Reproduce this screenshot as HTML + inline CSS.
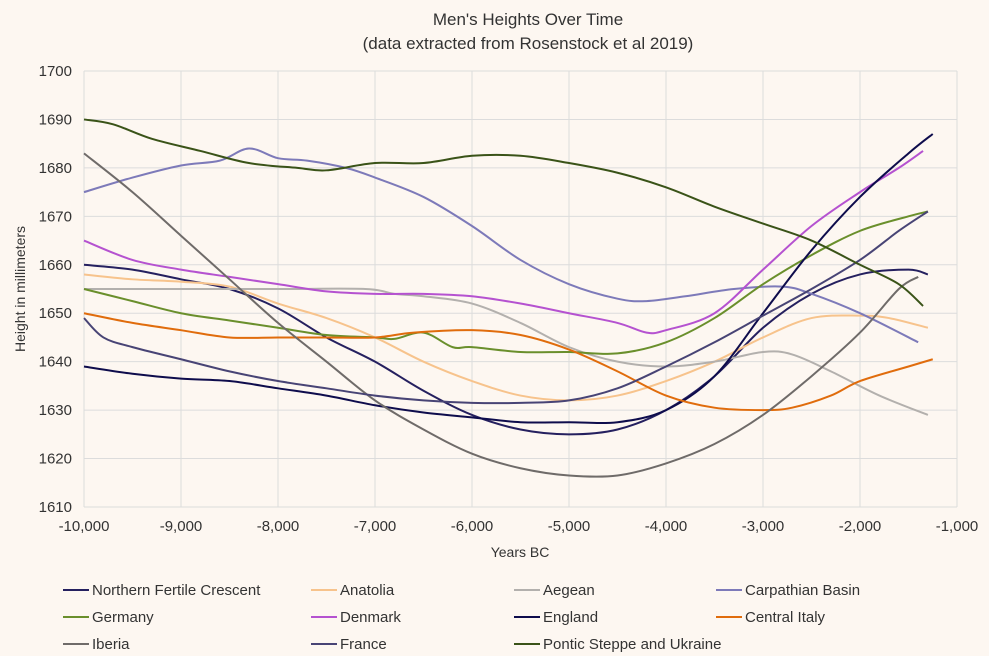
<!DOCTYPE html>
<html><head><meta charset="utf-8"><style>
body{margin:0;background:#fdf7f1;}
svg{display:block;font-family:"Liberation Sans",sans-serif;}
</style></head><body>
<svg id="chart" width="989" height="656">
<rect width="989" height="656" fill="#fdf7f1"/>
<text x="528" y="25" text-anchor="middle" font-size="17" fill="#333">Men's Heights Over Time</text>
<text x="528" y="49" text-anchor="middle" font-size="17" fill="#333">(data extracted from Rosenstock et al 2019)</text>
<g id="grid"></g><g id="series"></g><g id="axes"></g><g id="legend"></g>
<text x="520" y="557" text-anchor="middle" font-size="14" fill="#333">Years BC</text>
<text transform="translate(25,289) rotate(-90)" text-anchor="middle" font-size="14" fill="#333">Height in millimeters</text>
</svg>
<script>
const xTicks=[-10000,-9000,-8000,-7000,-6000,-5000,-4000,-3000,-2000,-1000];
const yTicks=[1610,1620,1630,1640,1650,1660,1670,1680,1690,1700];
const seriesNames=["Northern Fertile Crescent","Anatolia","Aegean","Carpathian Basin","Germany","Denmark","England","Central Italy","Iberia","France","Pontic Steppe and Ukraine"];
const seriesColors=["#25205f","#f7c38c","#b3b0ad","#7d7ab9","#6a8f2c","#b552d0","#0e0c4c","#e06c0c","#6f6b69","#484475","#3a5318"];
const yearsNFC=[-10000,-9500,-9000,-8500,-8000,-7500,-7000,-6500,-6000,-5500,-5000,-4500,-4000,-3500,-3000,-2500,-2000,-1500,-1300];
const valsNFC=[1660,1659,1657,1655,1651,1645,1640,1634,1629,1626,1625,1626,1630,1637,1647,1654,1658,1659,1658];
const yearsAna=[-10000,-9500,-9000,-8500,-8000,-7500,-7000,-6500,-6000,-5500,-5000,-4500,-4000,-3500,-3000,-2500,-2000,-1700,-1300];
const valsAna=[1658,1657,1656.5,1655.5,1652,1649,1645,1640,1636,1633,1632,1633,1636,1640,1645,1649,1649.5,1649,1647];
const yearsAeg=[-10000,-9000,-8000,-7100,-6800,-6500,-6000,-5500,-5000,-4500,-4000,-3500,-3000,-2700,-2300,-1800,-1300];
const valsAeg=[1655,1655,1655,1655,1654,1653.5,1652,1648,1643,1640,1639,1640,1642,1641.5,1638,1633,1629];
const yearsCar=[-10000,-9500,-9000,-8600,-8300,-8000,-7700,-7300,-7000,-6500,-6000,-5500,-5000,-4500,-4200,-3800,-3300,-2800,-2500,-2000,-1400];
const valsCar=[1675,1678,1680.5,1681.5,1684,1682,1681.5,1680,1678,1674,1668,1661,1656,1653,1652.5,1653.5,1655,1655.5,1654,1650,1644];
const yearsGer=[-10000,-9500,-9000,-8500,-8000,-7500,-7000,-6800,-6500,-6200,-6000,-5500,-5000,-4500,-4000,-3500,-3000,-2500,-2000,-1500,-1300];
const valsGer=[1655,1652.5,1650,1648.5,1647,1645.5,1645,1644.7,1646,1643,1643,1642,1642,1641.7,1644,1649,1656,1662,1667,1670,1671];
const yearsDen=[-10000,-9500,-9000,-8500,-8000,-7500,-7000,-6500,-6000,-5500,-5000,-4500,-4200,-4000,-3500,-3000,-2500,-2000,-1600,-1350];
const valsDen=[1665,1661,1659,1657.5,1656,1654.5,1654,1654,1653.5,1652,1650,1648,1646,1646.5,1650,1659,1668,1675,1680,1683.5];
const yearsEng=[-10000,-9500,-9000,-8500,-8000,-7500,-7000,-6500,-6000,-5500,-5000,-4500,-4000,-3500,-3000,-2500,-2000,-1500,-1250];
const valsEng=[1639,1637.5,1636.5,1636,1634.5,1633,1631,1629.5,1628.5,1627.5,1627.5,1627.5,1630,1637,1650,1663,1674,1683,1687];
const yearsIta=[-10000,-9500,-9000,-8500,-8000,-7500,-7000,-6600,-6000,-5500,-5000,-4500,-4000,-3500,-3000,-2700,-2300,-2000,-1500,-1250];
const valsIta=[1650,1648,1646.5,1645,1645,1645,1645,1646,1646.5,1645.5,1642.5,1638,1633,1630.5,1630,1630.5,1633,1636,1639,1640.5];
const yearsIbe=[-10000,-9500,-9000,-8500,-8000,-7500,-7000,-6500,-6000,-5500,-5000,-4500,-4000,-3500,-3000,-2500,-2000,-1600,-1400];
const valsIbe=[1683,1675,1666,1657,1648,1640,1632,1626,1621,1618,1616.5,1616.5,1619,1623,1629,1637,1646,1655,1657.5];
const yearsFra=[-10000,-9800,-9500,-9000,-8500,-8000,-7500,-7000,-6500,-6000,-5500,-5000,-4500,-4000,-3500,-3000,-2500,-2000,-1600,-1300];
const valsFra=[1649,1645,1643,1640.5,1638,1636,1634.5,1633,1632,1631.5,1631.5,1632,1634.5,1639,1644,1649.5,1655,1661,1667,1671];
const yearsPon=[-10000,-9700,-9300,-8800,-8300,-7800,-7500,-7000,-6500,-6000,-5500,-5000,-4500,-4000,-3500,-3000,-2500,-2000,-1600,-1350];
const valsPon=[1690,1689,1686,1683.5,1681,1680,1679.5,1681,1681,1682.5,1682.5,1681,1679,1676,1672,1668.5,1665,1660,1656,1651.5];
const allYears=[yearsNFC,yearsAna,yearsAeg,yearsCar,yearsGer,yearsDen,yearsEng,yearsIta,yearsIbe,yearsFra,yearsPon];
const allVals=[valsNFC,valsAna,valsAeg,valsCar,valsGer,valsDen,valsEng,valsIta,valsIbe,valsFra,valsPon];
const NS="http://www.w3.org/2000/svg";
const X0=84,X1=957,Y0=507,Y1=71;
function xs(v){return X0+(v+10000)/9000*(X1-X0);}
function ys(v){return Y0-(v-1610)/90*(Y0-Y1);}
function mk(t,a,p){const e=document.createElementNS(NS,t);for(const k in a)e.setAttribute(k,a[k]);p.appendChild(e);return e;}
const grid=document.getElementById('grid'),axes=document.getElementById('axes'),ser=document.getElementById('series'),leg=document.getElementById('legend');
yTicks.forEach(v=>{const l=mk('line',{x1:X0,x2:X1,y1:ys(v),y2:ys(v),stroke:'#dcdcdc','stroke-width':1},grid);


const t=mk('text',{x:X0-12,y:ys(v)+5,'text-anchor':'end','font-size':15,fill:'#333'},axes);t.textContent=v;

});
xTicks.forEach(v=>{const l=mk('line',{x1:xs(v),x2:xs(v),y1:Y1,y2:Y0,stroke:'#dcdcdc','stroke-width':1},grid);


const t=mk('text',{x:xs(v),y:Y0+24,'text-anchor':'middle','font-size':15,fill:'#333'},axes);t.textContent=v.toLocaleString('en-US');

});
function pathFor(yr,vl){const p=yr.map((y,i)=>[xs(y),ys(vl[i])]);let d='M'+p[0][0]+','+p[0][1];
for(let i=0;i<p.length-1;i++){const a=p[Math.max(i-1,0)],b=p[i],c=p[i+1],e=p[Math.min(i+2,p.length-1)];
d+=` C${b[0]+(c[0]-a[0])/6},${b[1]+(c[1]-a[1])/6} ${c[0]-(e[0]-b[0])/6},${c[1]-(e[1]-b[1])/6} ${c[0]},${c[1]}`;}return d;}
seriesNames.forEach((n,i)=>{const p=mk('path',{d:pathFor(allYears[i],allVals[i]),fill:'none',stroke:seriesColors[i],'stroke-width':2},ser);


const col=i%4,row=Math.floor(i/4);const lx=[63,311,514,716][col],ly=590+row*27;
const g=mk('g',{},leg);


mk('line',{x1:lx,x2:lx+26,y1:ly,y2:ly,stroke:seriesColors[i],'stroke-width':2},g);
const t=mk('text',{x:lx+29,y:ly+5,'font-size':15,fill:'#333'},g);t.textContent=n;});
</script>
</body></html>
